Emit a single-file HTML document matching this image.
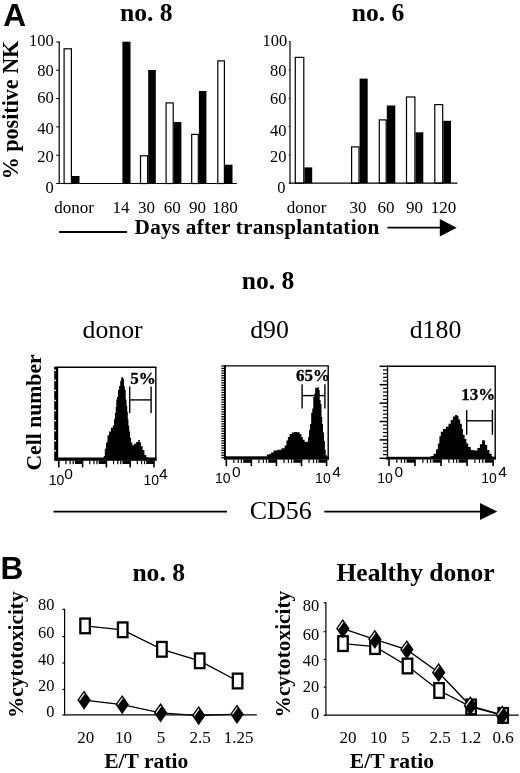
<!DOCTYPE html>
<html><head><meta charset="utf-8"><title>Figure</title>
<style>html,body{margin:0;padding:0;background:#fff}svg{display:block;will-change:transform}text{fill:#000}</style></head><body>
<svg width="520" height="773" viewBox="0 0 520 773" font-family='"Liberation Serif", serif'>
<rect width="520" height="773" fill="#fff"/>
<text x="3.2" y="26" font-size="31.6" font-weight="bold" font-family='"Liberation Sans", sans-serif'>A</text>
<text x="0.6" y="579" font-size="31.6" font-weight="bold" font-family='"Liberation Sans", sans-serif'>B</text>
<rect x="64.10" y="48.80" width="7.30" height="134.70" fill="#fff" stroke="#000" stroke-width="1.2"/>
<rect x="72.00" y="176.00" width="7.50" height="7.50" fill="#000"/>
<rect x="122.40" y="41.70" width="8.10" height="141.80" fill="#000"/>
<rect x="140.50" y="155.80" width="7.10" height="27.70" fill="#fff" stroke="#000" stroke-width="1.2"/>
<rect x="148.20" y="70.00" width="7.60" height="113.50" fill="#000"/>
<rect x="166.10" y="102.90" width="7.10" height="80.60" fill="#fff" stroke="#000" stroke-width="1.2"/>
<rect x="173.80" y="122.00" width="7.60" height="61.50" fill="#000"/>
<rect x="191.70" y="134.40" width="6.60" height="49.10" fill="#fff" stroke="#000" stroke-width="1.2"/>
<rect x="198.90" y="91.00" width="7.50" height="92.50" fill="#000"/>
<rect x="217.80" y="60.90" width="6.60" height="122.60" fill="#fff" stroke="#000" stroke-width="1.2"/>
<rect x="225.00" y="164.70" width="7.50" height="18.80" fill="#000"/>
<line x1="59.2" y1="41.5" x2="59.2" y2="184.0" stroke="#000" stroke-width="1.2"/>
<line x1="58.7" y1="183.5" x2="237" y2="183.5" stroke="#000" stroke-width="1.2"/>
<line x1="56.2" y1="183.5" x2="59.2" y2="183.5" stroke="#000" stroke-width="1"/>
<text transform="translate(53.8 192.9) scale(0.97 1)" font-size="17" text-anchor="end">0</text>
<line x1="56.2" y1="155.2" x2="59.2" y2="155.2" stroke="#000" stroke-width="1"/>
<text transform="translate(53.8 161.7) scale(0.97 1)" font-size="17" text-anchor="end">20</text>
<line x1="56.2" y1="126.9" x2="59.2" y2="126.9" stroke="#000" stroke-width="1"/>
<text transform="translate(53.8 134) scale(0.97 1)" font-size="17" text-anchor="end">40</text>
<line x1="56.2" y1="98.6" x2="59.2" y2="98.6" stroke="#000" stroke-width="1"/>
<text transform="translate(53.8 103.4) scale(0.97 1)" font-size="17" text-anchor="end">60</text>
<line x1="56.2" y1="70.3" x2="59.2" y2="70.3" stroke="#000" stroke-width="1"/>
<text transform="translate(53.8 76.1) scale(0.97 1)" font-size="17" text-anchor="end">80</text>
<line x1="56.2" y1="42.0" x2="59.2" y2="42.0" stroke="#000" stroke-width="1"/>
<text transform="translate(53.8 45.9) scale(0.97 1)" font-size="17" text-anchor="end">100</text>
<rect x="295.30" y="57.40" width="8.50" height="125.80" fill="#fff" stroke="#000" stroke-width="1.2"/>
<rect x="304.40" y="167.40" width="7.80" height="15.80" fill="#000"/>
<rect x="351.60" y="146.90" width="7.40" height="36.30" fill="#fff" stroke="#000" stroke-width="1.2"/>
<rect x="359.60" y="78.60" width="8.10" height="104.60" fill="#000"/>
<rect x="379.30" y="119.90" width="6.90" height="63.30" fill="#fff" stroke="#000" stroke-width="1.2"/>
<rect x="386.80" y="105.50" width="8.50" height="77.70" fill="#000"/>
<rect x="406.50" y="97.00" width="8.40" height="86.20" fill="#fff" stroke="#000" stroke-width="1.2"/>
<rect x="415.50" y="132.30" width="7.80" height="50.90" fill="#000"/>
<rect x="434.80" y="104.60" width="7.90" height="78.60" fill="#fff" stroke="#000" stroke-width="1.2"/>
<rect x="443.30" y="120.80" width="7.70" height="62.40" fill="#000"/>
<line x1="290" y1="41.2" x2="290" y2="183.7" stroke="#000" stroke-width="1.2"/>
<line x1="289.5" y1="183.2" x2="457.5" y2="183.2" stroke="#000" stroke-width="1.2"/>
<line x1="288.8" y1="183.2" x2="290" y2="183.2" stroke="#000" stroke-width="1"/>
<text transform="translate(285.40000000000003 192.9) scale(0.97 1)" font-size="17" text-anchor="end">0</text>
<line x1="288.8" y1="154.89999999999998" x2="290" y2="154.89999999999998" stroke="#000" stroke-width="1"/>
<text transform="translate(286.6 161.8) scale(0.97 1)" font-size="17" text-anchor="end">20</text>
<line x1="288.8" y1="126.6" x2="290" y2="126.6" stroke="#000" stroke-width="1"/>
<text transform="translate(286.6 136) scale(0.97 1)" font-size="17" text-anchor="end">40</text>
<line x1="288.8" y1="98.29999999999998" x2="290" y2="98.29999999999998" stroke="#000" stroke-width="1"/>
<text transform="translate(286.6 103.6) scale(0.97 1)" font-size="17" text-anchor="end">60</text>
<line x1="288.8" y1="69.99999999999999" x2="290" y2="69.99999999999999" stroke="#000" stroke-width="1"/>
<text transform="translate(286.6 76.4) scale(0.97 1)" font-size="17" text-anchor="end">80</text>
<line x1="288.8" y1="41.69999999999999" x2="290" y2="41.69999999999999" stroke="#000" stroke-width="1"/>
<text transform="translate(287.20000000000005 45.7) scale(0.97 1)" font-size="17" text-anchor="end">100</text>
<text x="146.3" y="21" font-size="25.6" font-weight="bold" text-anchor="middle">no. 8</text>
<text x="378" y="21" font-size="25.6" font-weight="bold" text-anchor="middle">no. 6</text>
<text transform="translate(18.1 179.3) rotate(-90) scale(0.96 1)" font-size="23" font-weight="bold">% positive NK</text>
<text x="74" y="213" font-size="17" text-anchor="middle">donor</text>
<text x="121" y="213" font-size="17" text-anchor="middle">14</text>
<text x="146.5" y="213" font-size="17" text-anchor="middle">30</text>
<text x="172.3" y="213" font-size="17" text-anchor="middle">60</text>
<text x="197.5" y="213" font-size="17" text-anchor="middle">90</text>
<text x="225" y="213" font-size="17" text-anchor="middle">180</text>
<text x="306.5" y="213" font-size="17" text-anchor="middle">donor</text>
<text x="358" y="213" font-size="17" text-anchor="middle">30</text>
<text x="386" y="213" font-size="17" text-anchor="middle">60</text>
<text x="414.5" y="213" font-size="17" text-anchor="middle">90</text>
<text x="443.5" y="213" font-size="17" text-anchor="middle">120</text>
<text x="134.6" y="234.3" font-size="21.2" font-weight="bold" letter-spacing="0.25">Days after transplantation</text>
<line x1="59" y1="232" x2="127" y2="232" stroke="#000" stroke-width="1.9"/>
<line x1="387.5" y1="227.7" x2="441" y2="227.7" stroke="#000" stroke-width="1.8"/>
<polygon points="439.8,219 456.7,227.7 439.8,236.5" fill="#000"/>
<text x="268" y="289.4" font-size="25.6" font-weight="bold" text-anchor="middle">no. 8</text>
<text x="112.6" y="337.5" font-size="25.8" text-anchor="middle">donor</text>
<text x="269.5" y="337.5" font-size="25.8" text-anchor="middle">d90</text>
<text x="435.5" y="337.5" font-size="25.8" text-anchor="middle">d180</text>
<text transform="translate(41.2 470.6) rotate(-90)" font-size="21.7" font-weight="bold">Cell number</text>
<path d="M103.5,459.8 V460.4 H103.8 V456.1 H104.2 H104.8 V448.7 H105.4 H106.0 V442.6 H106.6 H107.5 V435.2 H108.5 H109.1 V431.5 H109.7 H110.9 V427.8 H112.1 H112.8 V425.4 H113.4 H114.0 V419.2 H114.6 H114.9 V413.1 H115.2 H115.7 V406.9 H116.2 H116.3 V399.5 H116.5 H117.1 V397.1 H117.7 H118.0 V389.7 H118.3 H119.1 V386.0 H119.9 H120.2 V381.1 H120.4 H121.2 V377.4 H122.0 H122.3 V377.1 H122.6 H123.2 V379.2 H123.8 H124.0 V386.0 H124.2 H124.8 V389.7 H125.3 H125.7 V399.5 H126.0 H126.5 V405.7 H126.9 H127.2 V411.8 H127.5 H127.8 V419.2 H128.1 H128.4 V425.4 H128.8 H129.2 V431.5 H129.7 H130.1 V437.7 H130.6 H131.1 V442.6 H131.5 H132.3 V445.3 H133.1 H134.0 V443.8 H134.9 H136.2 V442.0 H137.4 H138.3 V440.1 H139.2 H139.8 V442.6 H140.4 H141.1 V446.3 H141.7 H142.6 V450.0 H143.5 H144.4 V454.9 H145.4 H146.3 V457.3 H147.2 H148.4 V459.2 H149.7 H150.9 V461.0 H152.1 V459.8 Z" fill="#000"/>
<line x1="57.2" y1="367.3" x2="156.5" y2="367.3" stroke="#000" stroke-width="1.4"/>
<line x1="155.8" y1="367.3" x2="155.8" y2="460.8" stroke="#000" stroke-width="1.4"/>
<rect x="56.20" y="457.50" width="100.30" height="3.30" fill="#000"/>
<rect x="54.20" y="366.60" width="4.00" height="94.20" fill="#000"/>
<rect x="53.90" y="369.60" width="2.00" height="1.40" fill="#fff"/>
<rect x="53.90" y="379.66" width="2.00" height="1.40" fill="#fff"/>
<rect x="53.90" y="389.72" width="2.00" height="1.40" fill="#fff"/>
<rect x="53.90" y="399.78" width="2.00" height="1.40" fill="#fff"/>
<rect x="53.90" y="409.84" width="2.00" height="1.40" fill="#fff"/>
<rect x="53.90" y="419.90" width="2.00" height="1.40" fill="#fff"/>
<rect x="53.90" y="429.96" width="2.00" height="1.40" fill="#fff"/>
<rect x="53.90" y="440.02" width="2.00" height="1.40" fill="#fff"/>
<rect x="53.90" y="450.08" width="2.00" height="1.40" fill="#fff"/>
<rect x="58.00" y="460.60" width="1.60" height="6.80" fill="#000"/>
<rect x="65.36" y="460.60" width="1.20" height="3.60" fill="#000"/>
<rect x="69.56" y="460.60" width="1.20" height="3.60" fill="#000"/>
<rect x="72.53" y="460.60" width="1.20" height="3.60" fill="#000"/>
<rect x="74.84" y="460.60" width="7.76" height="3.40" fill="#000"/>
<rect x="81.80" y="460.60" width="1.60" height="6.80" fill="#000"/>
<rect x="89.16" y="460.60" width="1.20" height="3.60" fill="#000"/>
<rect x="93.36" y="460.60" width="1.20" height="3.60" fill="#000"/>
<rect x="96.33" y="460.60" width="1.20" height="3.60" fill="#000"/>
<rect x="98.64" y="460.60" width="7.76" height="3.40" fill="#000"/>
<rect x="105.60" y="460.60" width="1.60" height="6.80" fill="#000"/>
<rect x="112.96" y="460.60" width="1.20" height="3.60" fill="#000"/>
<rect x="117.16" y="460.60" width="1.20" height="3.60" fill="#000"/>
<rect x="120.13" y="460.60" width="1.20" height="3.60" fill="#000"/>
<rect x="122.44" y="460.60" width="7.76" height="3.40" fill="#000"/>
<rect x="129.40" y="460.60" width="1.60" height="6.80" fill="#000"/>
<rect x="136.76" y="460.60" width="1.20" height="3.60" fill="#000"/>
<rect x="140.96" y="460.60" width="1.20" height="3.60" fill="#000"/>
<rect x="143.93" y="460.60" width="1.20" height="3.60" fill="#000"/>
<rect x="146.24" y="460.60" width="7.76" height="3.40" fill="#000"/>
<rect x="153.20" y="460.60" width="1.60" height="6.80" fill="#000"/>
<line x1="129.7" y1="386.6" x2="129.7" y2="413" stroke="#000" stroke-width="1.4"/>
<line x1="151.1" y1="386.6" x2="151.1" y2="413" stroke="#000" stroke-width="1.4"/>
<line x1="129.7" y1="399.9" x2="151.1" y2="399.9" stroke="#000" stroke-width="1.4"/>
<text x="130.2" y="383.6" font-size="17" font-weight="bold" stroke="#000" stroke-width="0.3">5%</text>
<text x="48.7" y="485.4" font-size="14" font-family='"Liberation Sans", sans-serif'>10<tspan dx="0" dy="-6.3" font-size="15.5">0</tspan></text>
<text x="143.5" y="485.4" font-size="14" font-family='"Liberation Sans", sans-serif'>10<tspan dx="0" dy="-6.3" font-size="15.5">4</tspan></text>
<path d="M265.8,458.6 V457.1 H266.9 V454.6 H268.0 H269.1 V453.9 H270.1 H271.1 V452.5 H272.2 H273.6 V450.4 H275.1 H277.2 V449.7 H279.3 H281.5 V448.2 H283.6 H284.6 V445.4 H285.7 H286.4 V440.4 H287.2 H287.9 V436.9 H288.6 H289.6 V434.0 H290.7 H291.8 V432.6 H292.9 H293.9 V431.9 H295.0 H296.8 V432.2 H298.5 H299.6 V434.0 H300.7 H301.4 V436.9 H302.1 H302.8 V439.7 H303.5 H304.6 V441.8 H305.7 H306.8 V441.8 H307.8 H308.1 V436.9 H308.5 H309.0 V429.7 H309.5 H310.1 V424.1 H310.6 H311.2 V412.7 H311.8 H312.3 V408.4 H312.8 H313.3 V397.0 H313.8 H314.4 V393.5 H314.9 H315.2 V387.8 H315.6 H317.1 V387.4 H318.5 H319.0 V389.9 H319.5 H319.7 V399.9 H319.9 H320.6 V404.1 H321.3 H321.5 V416.9 H321.7 H322.2 V424.1 H322.7 H323.0 V432.6 H323.4 H324.0 V441.1 H324.6 H324.9 V449.7 H325.1 H325.7 V455.3 H326.3 H326.9 V457.5 H327.4 V458.6 Z" fill="#000"/>
<line x1="224.9" y1="365.9" x2="328.9" y2="365.9" stroke="#000" stroke-width="1.4"/>
<line x1="328.2" y1="365.9" x2="328.2" y2="459.6" stroke="#000" stroke-width="1.4"/>
<rect x="223.90" y="456.30" width="105.00" height="3.30" fill="#000"/>
<rect x="224.00" y="365.20" width="1.90" height="94.40" fill="#000"/>
<rect x="221.30" y="365.35" width="3.00" height="1.25" fill="#000"/>
<rect x="221.30" y="367.76" width="3.00" height="1.25" fill="#000"/>
<rect x="221.30" y="370.18" width="3.00" height="1.25" fill="#000"/>
<rect x="221.30" y="372.59" width="3.00" height="1.25" fill="#000"/>
<rect x="221.30" y="375.00" width="3.00" height="1.25" fill="#000"/>
<rect x="221.30" y="377.42" width="3.00" height="1.25" fill="#000"/>
<rect x="221.30" y="379.83" width="3.00" height="1.25" fill="#000"/>
<rect x="221.30" y="382.24" width="3.00" height="1.25" fill="#000"/>
<rect x="221.30" y="384.66" width="3.00" height="1.25" fill="#000"/>
<rect x="221.30" y="387.07" width="3.00" height="1.25" fill="#000"/>
<rect x="221.30" y="389.48" width="3.00" height="1.25" fill="#000"/>
<rect x="221.30" y="391.89" width="3.00" height="1.25" fill="#000"/>
<rect x="221.30" y="394.31" width="3.00" height="1.25" fill="#000"/>
<rect x="221.30" y="396.72" width="3.00" height="1.25" fill="#000"/>
<rect x="221.30" y="399.13" width="3.00" height="1.25" fill="#000"/>
<rect x="221.30" y="401.55" width="3.00" height="1.25" fill="#000"/>
<rect x="221.30" y="403.96" width="3.00" height="1.25" fill="#000"/>
<rect x="221.30" y="406.37" width="3.00" height="1.25" fill="#000"/>
<rect x="221.30" y="408.79" width="3.00" height="1.25" fill="#000"/>
<rect x="221.30" y="411.20" width="3.00" height="1.25" fill="#000"/>
<rect x="221.30" y="413.61" width="3.00" height="1.25" fill="#000"/>
<rect x="221.30" y="416.03" width="3.00" height="1.25" fill="#000"/>
<rect x="221.30" y="418.44" width="3.00" height="1.25" fill="#000"/>
<rect x="221.30" y="420.85" width="3.00" height="1.25" fill="#000"/>
<rect x="221.30" y="423.27" width="3.00" height="1.25" fill="#000"/>
<rect x="221.30" y="425.68" width="3.00" height="1.25" fill="#000"/>
<rect x="221.30" y="428.09" width="3.00" height="1.25" fill="#000"/>
<rect x="221.30" y="430.51" width="3.00" height="1.25" fill="#000"/>
<rect x="221.30" y="432.92" width="3.00" height="1.25" fill="#000"/>
<rect x="221.30" y="435.33" width="3.00" height="1.25" fill="#000"/>
<rect x="221.30" y="437.74" width="3.00" height="1.25" fill="#000"/>
<rect x="221.30" y="440.16" width="3.00" height="1.25" fill="#000"/>
<rect x="221.30" y="442.57" width="3.00" height="1.25" fill="#000"/>
<rect x="221.30" y="444.98" width="3.00" height="1.25" fill="#000"/>
<rect x="221.30" y="447.40" width="3.00" height="1.25" fill="#000"/>
<rect x="221.30" y="449.81" width="3.00" height="1.25" fill="#000"/>
<rect x="221.30" y="452.22" width="3.00" height="1.25" fill="#000"/>
<rect x="221.30" y="454.64" width="3.00" height="1.25" fill="#000"/>
<rect x="221.30" y="457.05" width="3.00" height="1.25" fill="#000"/>
<rect x="225.50" y="459.40" width="1.60" height="6.80" fill="#000"/>
<rect x="233.25" y="459.40" width="1.20" height="3.60" fill="#000"/>
<rect x="237.66" y="459.40" width="1.20" height="3.60" fill="#000"/>
<rect x="240.80" y="459.40" width="1.20" height="3.60" fill="#000"/>
<rect x="243.23" y="459.40" width="8.15" height="3.40" fill="#000"/>
<rect x="250.57" y="459.40" width="1.60" height="6.80" fill="#000"/>
<rect x="258.32" y="459.40" width="1.20" height="3.60" fill="#000"/>
<rect x="262.74" y="459.40" width="1.20" height="3.60" fill="#000"/>
<rect x="265.87" y="459.40" width="1.20" height="3.60" fill="#000"/>
<rect x="268.30" y="459.40" width="8.15" height="3.40" fill="#000"/>
<rect x="275.65" y="459.40" width="1.60" height="6.80" fill="#000"/>
<rect x="283.40" y="459.40" width="1.20" height="3.60" fill="#000"/>
<rect x="287.81" y="459.40" width="1.20" height="3.60" fill="#000"/>
<rect x="290.95" y="459.40" width="1.20" height="3.60" fill="#000"/>
<rect x="293.38" y="459.40" width="8.15" height="3.40" fill="#000"/>
<rect x="300.73" y="459.40" width="1.60" height="6.80" fill="#000"/>
<rect x="308.47" y="459.40" width="1.20" height="3.60" fill="#000"/>
<rect x="312.89" y="459.40" width="1.20" height="3.60" fill="#000"/>
<rect x="316.02" y="459.40" width="1.20" height="3.60" fill="#000"/>
<rect x="318.45" y="459.40" width="8.15" height="3.40" fill="#000"/>
<rect x="325.80" y="459.40" width="1.60" height="6.80" fill="#000"/>
<line x1="302.1" y1="384.2" x2="302.1" y2="408.4" stroke="#000" stroke-width="1.4"/>
<line x1="324.9" y1="384.2" x2="324.9" y2="408.4" stroke="#000" stroke-width="1.4"/>
<line x1="302.1" y1="395.6" x2="324.9" y2="395.6" stroke="#000" stroke-width="1.4"/>
<text x="296.1" y="381.1" font-size="17" font-weight="bold" stroke="#000" stroke-width="0.3">65%</text>
<text x="215" y="483" font-size="14" font-family='"Liberation Sans", sans-serif'>10<tspan dx="1.5" dy="-6.3" font-size="15.5">0</tspan></text>
<text x="315.1" y="483" font-size="14" font-family='"Liberation Sans", sans-serif'>10<tspan dx="1.5" dy="-6.3" font-size="15.5">4</tspan></text>
<path d="M429.1,458.5 V457.4 H430.6 V455.9 H432.0 H433.5 V453.7 H435.0 H436.1 V449.3 H437.2 H437.9 V443.5 H438.6 H439.4 V436.2 H440.1 H440.8 V431.8 H441.5 H443.0 V428.9 H444.5 H445.9 V426.7 H447.4 H448.5 V423.7 H449.6 H450.7 V420.1 H451.8 H452.9 V416.4 H454.0 H455.1 V415.0 H456.2 H457.0 V415.7 H457.9 H458.5 V419.4 H459.1 H460.2 V423.7 H461.3 H461.8 V428.9 H462.3 H462.9 V434.7 H463.5 H464.6 V439.1 H465.7 H466.4 V443.5 H467.1 H468.2 V447.1 H469.3 H470.8 V450.1 H472.2 H474.0 V450.4 H475.9 H477.4 V447.9 H478.8 H479.9 V444.2 H481.0 H482.1 V440.3 H483.2 H483.7 V440.6 H484.2 H485.1 V444.9 H486.1 H487.2 V450.1 H488.3 H489.4 V453.7 H490.5 H491.6 V456.6 H492.7 H493.3 V457.8 H493.9 V458.5 Z" fill="#000"/>
<line x1="387.2" y1="366.3" x2="495.9" y2="366.3" stroke="#000" stroke-width="1.4"/>
<line x1="495.2" y1="366.3" x2="495.2" y2="459.5" stroke="#000" stroke-width="1.4"/>
<rect x="386.20" y="456.80" width="109.70" height="2.70" fill="#000"/>
<rect x="386.90" y="365.60" width="1.30" height="93.90" fill="#000"/>
<rect x="379.60" y="365.55" width="8.00" height="1.50" fill="#000"/>
<rect x="383.00" y="369.38" width="4.50" height="1.20" fill="#000"/>
<rect x="383.00" y="373.06" width="4.50" height="1.20" fill="#000"/>
<rect x="383.00" y="376.74" width="4.50" height="1.20" fill="#000"/>
<rect x="383.00" y="380.42" width="4.50" height="1.20" fill="#000"/>
<rect x="379.60" y="383.95" width="8.00" height="1.50" fill="#000"/>
<rect x="383.00" y="387.78" width="4.50" height="1.20" fill="#000"/>
<rect x="383.00" y="391.46" width="4.50" height="1.20" fill="#000"/>
<rect x="383.00" y="395.14" width="4.50" height="1.20" fill="#000"/>
<rect x="383.00" y="398.82" width="4.50" height="1.20" fill="#000"/>
<rect x="379.60" y="402.35" width="8.00" height="1.50" fill="#000"/>
<rect x="383.00" y="406.18" width="4.50" height="1.20" fill="#000"/>
<rect x="383.00" y="409.86" width="4.50" height="1.20" fill="#000"/>
<rect x="383.00" y="413.54" width="4.50" height="1.20" fill="#000"/>
<rect x="383.00" y="417.22" width="4.50" height="1.20" fill="#000"/>
<rect x="379.60" y="420.75" width="8.00" height="1.50" fill="#000"/>
<rect x="383.00" y="424.58" width="4.50" height="1.20" fill="#000"/>
<rect x="383.00" y="428.26" width="4.50" height="1.20" fill="#000"/>
<rect x="383.00" y="431.94" width="4.50" height="1.20" fill="#000"/>
<rect x="383.00" y="435.62" width="4.50" height="1.20" fill="#000"/>
<rect x="379.60" y="439.15" width="8.00" height="1.50" fill="#000"/>
<rect x="383.00" y="442.98" width="4.50" height="1.20" fill="#000"/>
<rect x="383.00" y="446.66" width="4.50" height="1.20" fill="#000"/>
<rect x="383.00" y="450.34" width="4.50" height="1.20" fill="#000"/>
<rect x="383.00" y="454.02" width="4.50" height="1.20" fill="#000"/>
<rect x="379.60" y="457.55" width="8.00" height="1.50" fill="#000"/>
<rect x="388.20" y="459.30" width="1.60" height="6.80" fill="#000"/>
<rect x="396.23" y="459.30" width="1.20" height="3.60" fill="#000"/>
<rect x="400.82" y="459.30" width="1.20" height="3.60" fill="#000"/>
<rect x="404.07" y="459.30" width="1.20" height="3.60" fill="#000"/>
<rect x="406.59" y="459.30" width="8.43" height="3.40" fill="#000"/>
<rect x="414.22" y="459.30" width="1.60" height="6.80" fill="#000"/>
<rect x="422.26" y="459.30" width="1.20" height="3.60" fill="#000"/>
<rect x="426.84" y="459.30" width="1.20" height="3.60" fill="#000"/>
<rect x="430.09" y="459.30" width="1.20" height="3.60" fill="#000"/>
<rect x="432.62" y="459.30" width="8.43" height="3.40" fill="#000"/>
<rect x="440.25" y="459.30" width="1.60" height="6.80" fill="#000"/>
<rect x="448.28" y="459.30" width="1.20" height="3.60" fill="#000"/>
<rect x="452.87" y="459.30" width="1.20" height="3.60" fill="#000"/>
<rect x="456.12" y="459.30" width="1.20" height="3.60" fill="#000"/>
<rect x="458.64" y="459.30" width="8.43" height="3.40" fill="#000"/>
<rect x="466.28" y="459.30" width="1.60" height="6.80" fill="#000"/>
<rect x="474.31" y="459.30" width="1.20" height="3.60" fill="#000"/>
<rect x="478.89" y="459.30" width="1.20" height="3.60" fill="#000"/>
<rect x="482.14" y="459.30" width="1.20" height="3.60" fill="#000"/>
<rect x="484.67" y="459.30" width="8.43" height="3.40" fill="#000"/>
<rect x="492.30" y="459.30" width="1.60" height="6.80" fill="#000"/>
<line x1="466.7" y1="409.9" x2="466.7" y2="434.7" stroke="#000" stroke-width="1.4"/>
<line x1="492.4" y1="409.9" x2="492.4" y2="434.7" stroke="#000" stroke-width="1.4"/>
<line x1="466.7" y1="420.8" x2="492.4" y2="420.8" stroke="#000" stroke-width="1.4"/>
<text x="461.3" y="399.6" font-size="17" font-weight="bold" stroke="#000" stroke-width="0.3">13%</text>
<text x="377.3" y="483" font-size="14" font-family='"Liberation Sans", sans-serif'>10<tspan dx="1.5" dy="-6.3" font-size="15.5">0</tspan></text>
<text x="481.2" y="483" font-size="14" font-family='"Liberation Sans", sans-serif'>10<tspan dx="1.5" dy="-6.3" font-size="15.5">4</tspan></text>
<line x1="53.5" y1="511.7" x2="227" y2="511.7" stroke="#000" stroke-width="1.7"/>
<text x="280.8" y="518.7" font-size="26" text-anchor="middle">CD56</text>
<line x1="324.3" y1="511.6" x2="482" y2="511.6" stroke="#000" stroke-width="1.7"/>
<polygon points="480,503.1 497.3,511.6 480,520.1" fill="#000"/>
<text x="158.7" y="581" font-size="25.6" font-weight="bold" text-anchor="middle">no. 8</text>
<text x="415.5" y="581" font-size="25.5" font-weight="bold" text-anchor="middle">Healthy donor</text>
<line x1="64.6" y1="608.8" x2="64.6" y2="715.4" stroke="#000" stroke-width="1.2"/>
<line x1="64.1" y1="714.9" x2="256.8" y2="714.9" stroke="#000" stroke-width="1.2"/>
<line x1="62.39999999999999" y1="714.9" x2="64.6" y2="714.9" stroke="#000" stroke-width="1.2"/>
<text transform="translate(54.5 717) scale(0.95 1)" font-size="17.3" text-anchor="end">0</text>
<line x1="62.39999999999999" y1="689.5" x2="64.6" y2="689.5" stroke="#000" stroke-width="1.2"/>
<text transform="translate(54.5 690.7) scale(0.95 1)" font-size="17.3" text-anchor="end">20</text>
<line x1="62.39999999999999" y1="663" x2="64.6" y2="663" stroke="#000" stroke-width="1.2"/>
<text transform="translate(54.5 664.8) scale(0.95 1)" font-size="17.3" text-anchor="end">40</text>
<line x1="62.39999999999999" y1="636.6" x2="64.6" y2="636.6" stroke="#000" stroke-width="1.2"/>
<text transform="translate(54.5 638.4) scale(0.95 1)" font-size="17.3" text-anchor="end">60</text>
<line x1="62.39999999999999" y1="609.4" x2="64.6" y2="609.4" stroke="#000" stroke-width="1.2"/>
<text transform="translate(54.5 609.5) scale(0.95 1)" font-size="17.3" text-anchor="end">80</text>
<polyline fill="none" stroke="#000" stroke-width="1.35" points="85.1,625.9 122.7,629.8 161.9,649.3 199.7,660.8 237.6,681.0"/>
<polyline fill="none" stroke="#000" stroke-width="1.35" points="84.1,700.1 122.2,704.6 160.6,712.8 198.7,715.6 237.0,714.2"/>
<polygon points="84.1,690.4 90.8,700.1 84.1,709.8 77.3,700.1" fill="#000"/>
<line x1="79.6" y1="700.1" x2="84.4" y2="693.4" stroke="#fff" stroke-width="1.15"/>
<polygon points="122.2,694.9 128.9,704.6 122.2,714.3 115.5,704.6" fill="#000"/>
<line x1="117.7" y1="704.6" x2="122.5" y2="697.9" stroke="#fff" stroke-width="1.15"/>
<polygon points="160.6,703.1 167.3,712.8 160.6,722.5 153.8,712.8" fill="#000"/>
<line x1="156.1" y1="712.8" x2="160.9" y2="706.1" stroke="#fff" stroke-width="1.15"/>
<polygon points="198.7,705.9 205.4,715.6 198.7,725.3 191.9,715.6" fill="#000"/>
<line x1="194.2" y1="715.6" x2="199.0" y2="708.9" stroke="#fff" stroke-width="1.15"/>
<polygon points="237.0,704.5 243.8,714.2 237.0,723.9 230.2,714.2" fill="#000"/>
<line x1="232.5" y1="714.2" x2="237.3" y2="707.5" stroke="#fff" stroke-width="1.15"/>
<rect x="80.35" y="618.55" width="9.50" height="14.70" fill="#fff" stroke="#000" stroke-width="2.3"/>
<rect x="117.95" y="622.45" width="9.50" height="14.70" fill="#fff" stroke="#000" stroke-width="2.3"/>
<rect x="157.15" y="641.95" width="9.50" height="14.70" fill="#fff" stroke="#000" stroke-width="2.3"/>
<rect x="194.95" y="653.45" width="9.50" height="14.70" fill="#fff" stroke="#000" stroke-width="2.3"/>
<rect x="232.85" y="673.65" width="9.50" height="14.70" fill="#fff" stroke="#000" stroke-width="2.3"/>
<text x="85.8" y="743" font-size="17" text-anchor="middle">20</text>
<text x="123.5" y="743" font-size="17" text-anchor="middle">10</text>
<text x="161" y="743" font-size="17" text-anchor="middle">5</text>
<text x="200.2" y="743" font-size="17" text-anchor="middle">2.5</text>
<text x="238.7" y="743" font-size="17" text-anchor="middle">1.25</text>
<line x1="325.9" y1="602.2" x2="325.9" y2="715.7" stroke="#000" stroke-width="1.2"/>
<line x1="325.4" y1="715.2" x2="518.7" y2="715.2" stroke="#000" stroke-width="1.2"/>
<line x1="323.7" y1="715.2" x2="325.9" y2="715.2" stroke="#000" stroke-width="1.2"/>
<text transform="translate(319.2 718.9) scale(0.95 1)" font-size="17.3" text-anchor="end">0</text>
<line x1="323.7" y1="687.1" x2="325.9" y2="687.1" stroke="#000" stroke-width="1.2"/>
<text transform="translate(319.2 691.6) scale(0.95 1)" font-size="17.3" text-anchor="end">20</text>
<line x1="323.7" y1="659.3" x2="325.9" y2="659.3" stroke="#000" stroke-width="1.2"/>
<text transform="translate(319.2 665.9) scale(0.95 1)" font-size="17.3" text-anchor="end">40</text>
<line x1="323.7" y1="631.7" x2="325.9" y2="631.7" stroke="#000" stroke-width="1.2"/>
<text transform="translate(319.2 639.9) scale(0.95 1)" font-size="17.3" text-anchor="end">60</text>
<line x1="323.7" y1="602.7" x2="325.9" y2="602.7" stroke="#000" stroke-width="1.2"/>
<text transform="translate(319.2 610.9) scale(0.95 1)" font-size="17.3" text-anchor="end">80</text>
<polyline fill="none" stroke="#000" stroke-width="1.35" points="343.0,643.6 375.0,646.6 407.5,666.0 439.1,690.5 471.1,706.9 503.2,715.4"/>
<polyline fill="none" stroke="#000" stroke-width="1.35" points="342.8,628.6 374.8,639.3 406.8,649.6 438.6,672.5 470.3,705.8 502.2,715.0"/>
<rect x="338.25" y="636.25" width="9.50" height="14.70" fill="#fff" stroke="#000" stroke-width="2.3"/>
<rect x="370.25" y="639.25" width="9.50" height="14.70" fill="#fff" stroke="#000" stroke-width="2.3"/>
<rect x="402.75" y="658.65" width="9.50" height="14.70" fill="#fff" stroke="#000" stroke-width="2.3"/>
<rect x="434.35" y="683.15" width="9.50" height="14.70" fill="#fff" stroke="#000" stroke-width="2.3"/>
<rect x="466.35" y="699.55" width="9.50" height="14.70" fill="#fff" stroke="#000" stroke-width="2.3"/>
<rect x="498.45" y="708.05" width="9.50" height="14.70" fill="#fff" stroke="#000" stroke-width="2.3"/>
<polygon points="342.8,618.9 349.6,628.6 342.8,638.3 336.1,628.6" fill="#000"/>
<line x1="338.3" y1="628.6" x2="343.1" y2="621.9" stroke="#fff" stroke-width="1.15"/>
<polygon points="374.8,629.6 381.6,639.3 374.8,649.0 368.1,639.3" fill="#000"/>
<line x1="370.3" y1="639.3" x2="375.1" y2="632.6" stroke="#fff" stroke-width="1.15"/>
<polygon points="406.8,639.9 413.6,649.6 406.8,659.3 400.1,649.6" fill="#000"/>
<line x1="402.3" y1="649.6" x2="407.1" y2="642.9" stroke="#fff" stroke-width="1.15"/>
<polygon points="438.6,662.8 445.4,672.5 438.6,682.2 431.9,672.5" fill="#000"/>
<line x1="434.1" y1="672.5" x2="438.9" y2="665.8" stroke="#fff" stroke-width="1.15"/>
<polygon points="470.3,696.1 477.1,705.8 470.3,715.5 463.6,705.8" fill="#000"/>
<line x1="465.8" y1="705.8" x2="470.6" y2="699.1" stroke="#fff" stroke-width="1.15"/>
<polygon points="502.2,705.3 508.9,715.0 502.2,724.7 495.4,715.0" fill="#000"/>
<line x1="497.7" y1="715.0" x2="502.5" y2="708.3" stroke="#fff" stroke-width="1.15"/>
<text x="348" y="743" font-size="17" text-anchor="middle">20</text>
<text x="378.5" y="743" font-size="17" text-anchor="middle">10</text>
<text x="405.6" y="743" font-size="17" text-anchor="middle">5</text>
<text x="440" y="743" font-size="17" text-anchor="middle">2.5</text>
<text x="470.7" y="743" font-size="17" text-anchor="middle">1.2</text>
<text x="503" y="743" font-size="17" text-anchor="middle">0.6</text>
<text x="104.2" y="768" font-size="21.6" font-weight="bold">E/T ratio</text>
<text x="349.8" y="768" font-size="21.6" font-weight="bold">E/T ratio</text>
<text transform="translate(22.5 718) rotate(-90)" font-size="21.3" font-weight="bold">%cytotoxicity</text>
<text transform="translate(289.5 717.4) rotate(-90)" font-size="21.3" font-weight="bold">%cytotoxicity</text>
</svg></body></html>
